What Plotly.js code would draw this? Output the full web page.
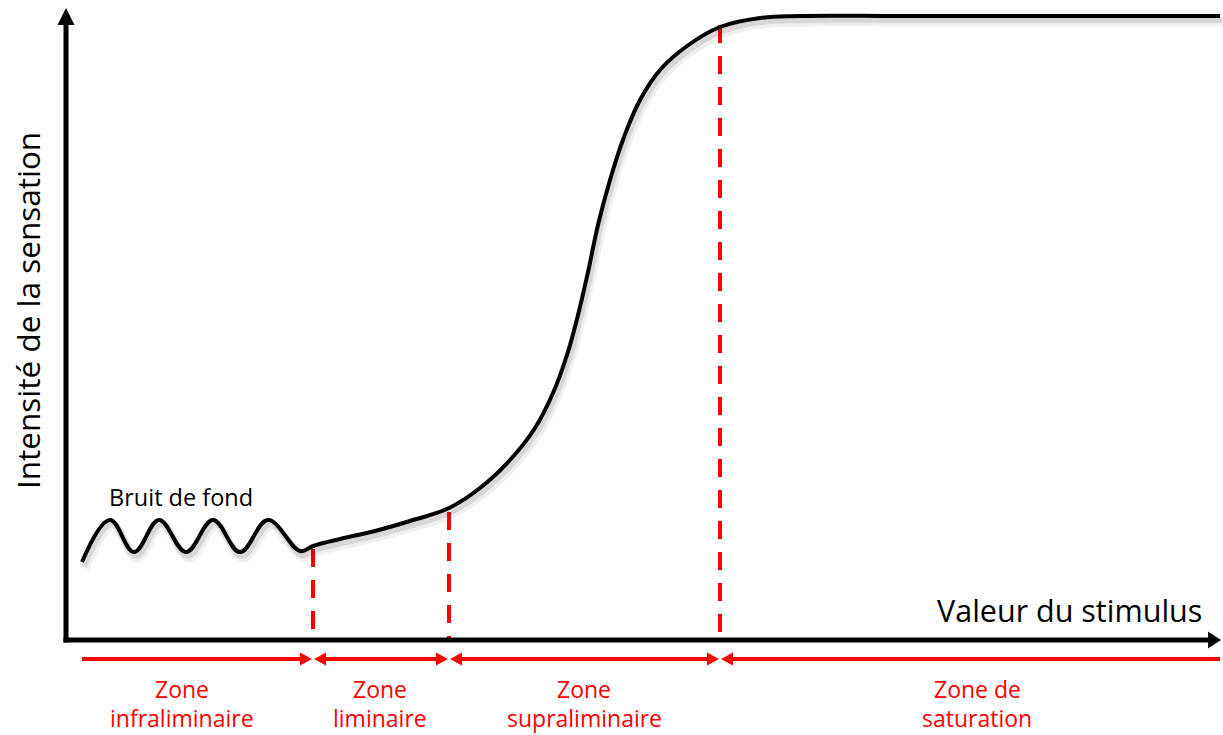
<!DOCTYPE html>
<html>
<head>
<meta charset="utf-8">
<script src="https://cdn.plot.ly/plotly-3.0.1.min.js"></script>
<style>html,body{margin:0;padding:0;background:#fff;}#chart{width:1223px;height:735px;}</style>
</head>
<body>
<div id="chart"></div>
<script>
// ---- data (diagram units) ----
const stimulus = [82, 110, 134, 159, 186, 213, 240, 268, 300, 313,
  340, 375, 410, 449, 480, 510, 535, 553, 567, 578, 588, 598, 610, 624, 640, 660, 687, 720, 760, 800, 900, 1060, 1220];
const sensation = [562, 520, 552, 520, 552, 520, 552, 520, 551, 546,
  539, 531, 521, 508, 488, 460, 428, 393, 355, 315, 272, 225, 180, 137, 100, 70, 46, 27, 18, 16, 16, 16, 16];

const thresholdX = [313, 449, 720];
const thresholdTop = [549, 512, 25];

const zoneBounds = [82, 313, 449, 720, 1220];
const zoneCenters = [182, 380, 584, 977];
const zoneLine1 = ['Zone', 'Zone', 'Zone', 'Zone de'];
const zoneLine2 = ['infraliminaire', 'liminaire', 'supraliminaire', 'saturation'];

const xAxisLabel = 'Valeur du stimulus';
const yAxisLabel = 'Intensité de la sensation';
const noiseLabel = 'Bruit de fond';

// ---- layout constants ----
const FONT = '"Open Sans", Lato, sans-serif';
const RED = '#ff0000';
const originX = 66, originY = 640, axisTopY = 8, axisRightX = 1221;
const zoneY = 659;

function tri(tipX, tipY, dir, len, half) {
  if (dir === 'up') return `M${tipX},${tipY} L${tipX - half},${tipY + len} L${tipX + half},${tipY + len} Z`;
  if (dir === 'right') return `M${tipX},${tipY} L${tipX - len},${tipY - half} L${tipX - len},${tipY + half} Z`;
  return `M${tipX},${tipY} L${tipX + len},${tipY - half} L${tipX + len},${tipY + half} Z`;
}

const shapes = [];
shapes.push({type: 'line', xref: 'x', yref: 'y', x0: originX, y0: originY + 2.5, x1: originX, y1: axisTopY + 14, line: {color: '#000', width: 5}});
shapes.push({type: 'line', xref: 'x', yref: 'y', x0: originX - 2.5, y0: originY, x1: axisRightX - 10, y1: originY, line: {color: '#000', width: 5}});
shapes.push({type: 'path', xref: 'x', yref: 'y', path: tri(originX, axisTopY, 'up', 17, 8.5), fillcolor: '#000', line: {width: 0}});
shapes.push({type: 'path', xref: 'x', yref: 'y', path: tri(axisRightX, originY, 'right', 13, 8.5), fillcolor: '#000', line: {width: 0}});

thresholdX.forEach((x, i) => {
  shapes.push({type: 'line', xref: 'x', yref: 'y', x0: x, y0: thresholdTop[i], x1: x, y1: originY - 2, layer: 'below',
    line: {color: RED, width: 4, dash: '18px,13px'}});
});

const annotations = [];
for (let i = 0; i < zoneCenters.length; i++) {
  const a = zoneBounds[i] + (i > 0 ? 1 : 0);
  const b = zoneBounds[i + 1] - (i < zoneCenters.length - 1 ? 1 : 0);
  const hasLeft = i > 0, hasRight = i < zoneCenters.length - 1;
  shapes.push({type: 'line', xref: 'x', yref: 'y', x0: a + (hasLeft ? 8 : 0), y0: zoneY, x1: b - (hasRight ? 8 : 0), y1: zoneY,
    line: {color: RED, width: 4}});
  if (hasLeft) shapes.push({type: 'path', xref: 'x', yref: 'y', path: tri(a, zoneY, 'left', 12, 6.5), fillcolor: RED, line: {width: 0}});
  if (hasRight) shapes.push({type: 'path', xref: 'x', yref: 'y', path: tri(b, zoneY, 'right', 12, 6.5), fillcolor: RED, line: {width: 0}});
  annotations.push({x: zoneCenters[i], y: 689, xref: 'x', yref: 'y', text: zoneLine1[i], showarrow: false, borderpad: 0,
    font: {family: FONT, size: 23, color: RED}, xanchor: 'center', yanchor: 'middle'});
  annotations.push({x: zoneCenters[i], y: 735, xref: 'x', yref: 'y', text: zoneLine2[i], showarrow: false, borderpad: 0,
    font: {family: FONT, size: 23, color: RED}, xanchor: 'center', yanchor: 'bottom'});
}

annotations.push({x: 1069, y: 610, xref: 'x', yref: 'y', text: xAxisLabel, showarrow: false,
  font: {family: FONT, size: 30.5, color: '#000'}, xanchor: 'center', yanchor: 'middle'});
annotations.push({x: 27, y: 311, xref: 'x', yref: 'y', text: yAxisLabel, showarrow: false, textangle: -90,
  font: {family: FONT, size: 31.5, color: '#000'}, xanchor: 'center', yanchor: 'middle'});
annotations.push({x: 181, y: 497, xref: 'x', yref: 'y', text: noiseLabel, showarrow: false,
  font: {family: FONT, size: 23.5, color: '#000'}, xanchor: 'center', yanchor: 'middle'});

const shadowOffsets = [[3, 6, 0.06, 9], [2, 4, 0.10, 6]];
const traces = shadowOffsets.map(([dx, dy, op, w]) => ({
  x: stimulus.map(v => v + dx), y: sensation.map(v => v + dy), type: 'scatter', mode: 'lines',
  line: {color: `rgba(0,0,0,${op})`, width: w, shape: 'spline', smoothing: 1.1}, hoverinfo: 'skip'
}));
traces.push({x: stimulus, y: sensation, type: 'scatter', mode: 'lines',
  line: {color: '#000', width: 4, shape: 'spline', smoothing: 1.1}, hoverinfo: 'skip'});

const layout = {
  width: 1223, height: 735,
  margin: {l: 0, r: 0, t: 0, b: 0, pad: 0},
  paper_bgcolor: '#fff', plot_bgcolor: '#fff',
  showlegend: false,
  xaxis: {range: [0, 1223], visible: false, fixedrange: true},
  yaxis: {range: [735, 0], visible: false, fixedrange: true},
  shapes: shapes,
  annotations: annotations
};

Plotly.newPlot('chart', traces, layout, {staticPlot: true, displayModeBar: false});
</script>
</body>
</html>
